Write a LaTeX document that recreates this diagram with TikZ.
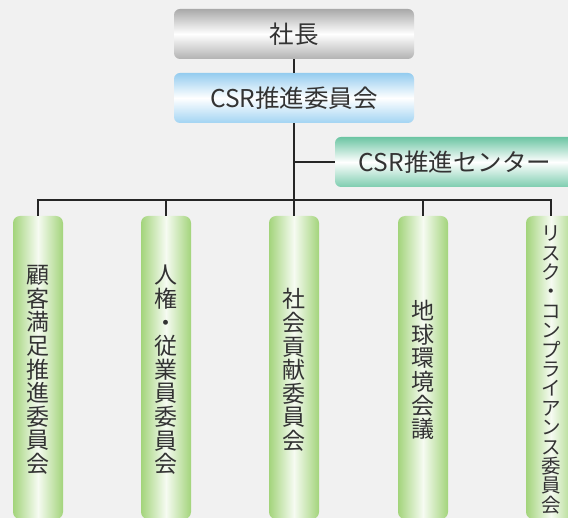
\documentclass[tikz,border=0pt]{standalone}
\usepackage{fontspec}
\newfontfamily\jp{Noto Sans CJK JP}
\newcommand\vtfontA{\jp\fontsize{23}{23.6}\selectfont\lineskiplimit=-50pt\relax}
\newcommand\vtfontB{\jp\fontsize{19.5}{19.4}\selectfont\lineskiplimit=-50pt\relax}
\definecolor{bg}{HTML}{F1F1F1}
\definecolor{txt}{HTML}{333333}
\definecolor{linec}{HTML}{262626}
\definecolor{gtop}{HTML}{A9A9A9}
\definecolor{gbot}{HTML}{B2B2B2}
\definecolor{btop}{HTML}{94CCEF}
\definecolor{bbot}{HTML}{A2D4F3}
\definecolor{ttop}{HTML}{6CC5A3}
\definecolor{tbot}{HTML}{7DCDAF}
\definecolor{pg}{HTML}{A3D47B}
\definecolor{pw}{HTML}{F6FBF2}
\begin{document}
\begin{tikzpicture}[x=1pt,y=-1pt,
  hbox/.style={rounded corners=6pt, minimum width=240pt, minimum height=50pt, inner sep=0pt,
    font=\jp\fontsize{24.5}{28}\selectfont, text=txt},
  pillar/.style={rounded corners=7pt, minimum width=50pt, minimum height=303pt, inner sep=0pt,
    left color=pg, right color=pg, middle color=pw},
  vtext/.style={align=center, inner sep=0pt, text=txt, font=\vtfontA},
  conn/.style={draw=linec, line width=1.6pt}]
\useasboundingbox (0,0) rectangle (568,518);
\fill[bg] (0,0) rectangle (568,518);
\clip (0,0) rectangle (568,518);

\node[hbox, top color=gtop, bottom color=gbot, middle color=white] (pres) at (294,34) {社長};
\node[hbox, top color=btop, bottom color=bbot, middle color=white] (csr) at (294,98) {CSR推進委員会};
\node[hbox, top color=ttop, bottom color=tbot, middle color=white] (center) at (455,162) {CSR推進センター};

\node[pillar] (p1) at (38,367.5) {};
\node[pillar] (p2) at (166,367.5) {};
\node[pillar] (p3) at (294,367.5) {};
\node[pillar] (p4) at (423,367.5) {};
\node[pillar] (p5) at (551,367.5) {};

\node[vtext] (t1) at (38,370) {顧\\客\\満\\足\\推\\進\\委\\員\\会};
\node[vtext] (t2) at (166,370) {人\\権\\・\\従\\業\\員\\委\\員\\会};
\node[vtext] (t3) at (294,370) {社\\会\\貢\\献\\委\\員\\会};
\node[vtext] (t4) at (423,370) {地\\球\\環\\境\\会\\議};
\node[vtext, font=\vtfontB] (t5) at (551,370) {リ\\ス\\ク\\・\\コ\\ン\\プ\\ラ\\イ\\ア\\ン\\ス\\委\\員\\会};

\coordinate (bar) at (294,200);
\coordinate (j) at (294,162);
\draw[conn] (pres.south) -- (csr.north);
\draw[conn] (csr.south) -- (p3.north);
\draw[conn] (j) -- (center.west);
\draw[conn] (p1.north) |- (bar) -| (p5.north);
\draw[conn] (p2.north) -- (p2.north |- bar);
\draw[conn] (p4.north) -- (p4.north |- bar);
\end{tikzpicture}
\end{document}
